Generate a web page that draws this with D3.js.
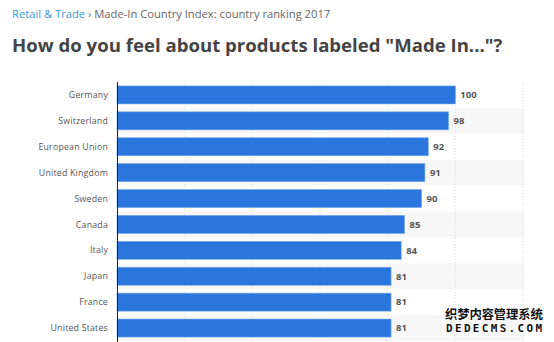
<!DOCTYPE html>
<html><head><meta charset="utf-8">
<script src="https://cdn.jsdelivr.net/npm/d3@7"></script>
<style>body{margin:0;background:#fff;} svg{display:block;}</style>
</head><body>
<svg id="c" width="554" height="342"></svg>
<script>
const categories = ["Germany","Switzerland","European Union","United Kingdom","Sweden","Canada","Italy","Japan","France","United States"];
const values = [100,98,92,91,90,85,84,81,81,81];
const gridTicks = [0,20,40,60,80,100,120];

const svg = d3.select("#c");
const font = "'Open Sans', sans-serif";
const m = {left:117, right:523, top:82, bottom:341};

const x = d3.scaleLinear().domain([0,120]).range([m.left, m.right]);
const y = d3.scaleBand().domain(categories).range([m.top, m.bottom]).paddingInner(0).paddingOuter(0);

// breadcrumb
const bc = svg.append("text").attr("x",12).attr("y",18).attr("font-family",font).attr("font-size",11.2);
bc.append("tspan").attr("fill","#3b99e0").text("Retail & Trade");
bc.append("tspan").attr("fill","#777").text(" \u203A ");
bc.append("tspan").attr("fill","#666").text("Made-In Country Index: country ranking 2017");

svg.append("text").attr("x",12).attr("y",52).attr("font-family",font).attr("font-size",18.6)
  .attr("font-weight","bold").attr("fill","#444")
  .text('How do you feel about products labeled "Made In..."?');

// alternating row backgrounds
svg.append("g").selectAll("rect").data(categories.filter((d,i)=>i%2===1)).join("rect")
  .attr("x", m.left).attr("width", m.right - m.left + 1)
  .attr("y", d=>y(d)).attr("height", y.bandwidth()).attr("fill","#f7f7f7");

// gridlines
svg.append("g").selectAll("line").data(gridTicks.slice(1)).join("line")
  .attr("x1",d=>x(d)).attr("x2",d=>x(d)).attr("y1",m.top).attr("y2",342)
  .attr("stroke","#ddd").attr("stroke-dasharray","1,2");

// bars
const bh = 18;
svg.append("g").selectAll("rect").data(categories).join("rect")
  .attr("x", x(0)).attr("y",(d)=>y(d)+(y.bandwidth()-bh)/2)
  .attr("width",(d,i)=>x(values[i])-x(0)).attr("height",bh)
  .attr("fill","#2a76dc").attr("stroke","#6fa8ec").attr("stroke-width",0.6);

// axis line
svg.append("line").attr("x1",m.left+0.5).attr("x2",m.left+0.5).attr("y1",m.top).attr("y2",342)
  .attr("stroke","#222").attr("stroke-width",1);

// category labels
svg.append("g").selectAll("text").data(categories).join("text")
  .attr("x",108).attr("y",d=>y(d)+y.bandwidth()/2).attr("dy","0.35em")
  .attr("text-anchor","end").attr("font-family",font).attr("font-size",8.8).attr("fill","#555")
  .attr("letter-spacing",0.2)
  .text(d=>d);

// value labels
svg.append("g").selectAll("text").data(categories).join("text")
  .attr("x",(d,i)=>x(values[i])+5).attr("y",d=>y(d)+y.bandwidth()/2).attr("dy","0.35em")
  .attr("font-family",font).attr("font-size",9.5).attr("font-weight","bold").attr("fill","#555")
  .text((d,i)=>values[i]);

// watermark
const wm = svg.append("g").attr("font-family","'Noto Sans CJK SC', sans-serif").attr("font-weight","bold")
  .attr("fill","#111").attr("stroke","#fff").attr("stroke-width",2.5).attr("paint-order","stroke");
wm.append("text").attr("x",445).attr("y",319).attr("font-size",12.5).attr("textLength",98).text("织梦内容管理系统");
wm.append("text").attr("x",446).attr("y",332).attr("font-size",11).attr("textLength",96).attr("font-family","'DejaVu Sans Mono', monospace").text("DEDECMS.COM");
</script>
</body></html>
